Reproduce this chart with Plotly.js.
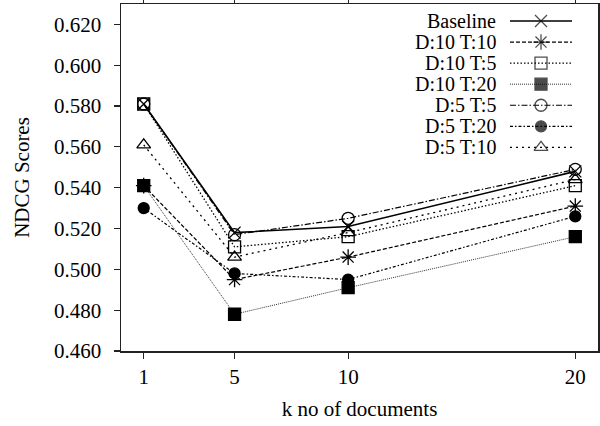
<!DOCTYPE html>
<html>
<head>
<meta charset="utf-8">
<script src="https://cdn.plot.ly/plotly-3.0.1.min.js"></script>
<style>html,body{margin:0;padding:0;background:#fff;}#chart{width:600px;height:426px;}</style>
</head>
<body>
<div id="chart"></div>
<script>
// ---- data ----
const kDocs = [1, 5, 10, 20];
const seriesNames = ["Baseline", "D:10 T:10", "D:10 T:5", "D:10 T:20", "D:5 T:5", "D:5 T:20", "D:5 T:10"];
const baseline = [0.581, 0.518, 0.521, 0.548];
const d10t10   = [0.541, 0.495, 0.506, 0.531];
const d10t5    = [0.581, 0.511, 0.516, 0.541];
const d10t20   = [0.541, 0.478, 0.491, 0.516];
const d5t5     = [0.581, 0.517, 0.525, 0.549];
const d5t20    = [0.530, 0.498, 0.495, 0.526];
const d5t10    = [0.561, 0.506, 0.518, 0.544];
const yTickVals = [0.46, 0.48, 0.50, 0.52, 0.54, 0.56, 0.58, 0.60, 0.62];

// ---- styles ----
const seriesValues = [baseline, d10t10, d10t5, d10t20, d5t5, d5t20, d5t10];
const styles = [
  {dash: "solid", width: 1.6, color: "#000", symbol: "x-thin-open", size: 12},
  {dash: "4px,2px", width: 1.2, color: "#000", symbol: "asterisk-open", size: 13},
  {dash: "1.5px,2px", width: 1.3, color: "#000", symbol: "square-open", size: 12},
  {dash: "1px,1px", width: 1, color: "#333", symbol: "square", size: 12},
  {dash: "6px,2px,1.5px,2px", width: 1.2, color: "#000", symbol: "circle-open", size: 12},
  {dash: "3px,2px,1.5px,2px", width: 1.2, color: "#000", symbol: "circle", size: 11},
  {dash: "2px,4px", width: 1.3, color: "#000", symbol: "triangle-up-open", size: 12}
];
const FONT = "Liberation Serif";
const FS = 21;
const LEG_FS = 20;

const traces = [];
seriesValues.forEach((vals, i) => {
  const s = styles[i];
  traces.push({
    x: kDocs, y: vals, name: seriesNames[i], mode: "lines+markers", showlegend: false,
    line: {color: s.color, width: s.width, dash: s.dash},
    marker: {symbol: s.symbol, size: s.size, color: "#000", line: {color: "#000", width: 1.3}}
  });
});

// custom legend (text left, sample right) on an overlay axis pair
const legX0 = 0.8155, legX1 = 0.9455, legTop = 0.951, legStep = 0.0607;
const annotations = [];
seriesNames.forEach((nm, i) => {
  const s = styles[i];
  const yy = legTop - i * legStep;
  traces.push({
    x: [legX0, (legX0 + legX1) / 2, legX1], y: [yy, yy, yy], xaxis: "x2", yaxis: "y2",
    mode: "lines+markers", showlegend: false, hoverinfo: "skip",
    line: {color: s.color, width: s.width, dash: s.dash},
    marker: {symbol: s.symbol, size: [0, s.size, 0], color: "#000", line: {color: "#000", width: 1.3}}
  });
  annotations.push({
    xref: "paper", yref: "paper", x: 0.788, y: yy, xanchor: "right", yanchor: "middle",
    text: nm, showarrow: false, borderpad: 0, font: {family: FONT, size: LEG_FS, color: "#000"}
  });
});

const axisCommon = {
  showline: true, linecolor: "#222", linewidth: 1.5, mirror: "ticks",
  ticks: "outside", ticklen: 6, tickcolor: "#222", tickwidth: 1.2,
  showgrid: false, zeroline: false,
  tickfont: {family: FONT, size: FS, color: "#000"}
};

const layout = {
  width: 600, height: 426,
  margin: {l: 121, r: 2, t: 4, b: 75},
  paper_bgcolor: "#fff", plot_bgcolor: "#fff",
  font: {family: FONT, size: FS, color: "#000"},
  xaxis: Object.assign({}, axisCommon, {
    range: [0, 21], tickvals: kDocs, ticktext: kDocs.map(String),
    title: {text: "k no of documents", font: {family: FONT, size: FS}, standoff: 13}
  }),
  yaxis: Object.assign({}, axisCommon, {
    range: [0.46, 0.63], tickvals: yTickVals, tickformat: ".3f", ticklabelstandoff: 8,
    title: {text: "NDCG Scores", font: {family: FONT, size: FS}, standoff: 18}
  }),
  xaxis2: {overlaying: "x", anchor: "y2", range: [0, 1], visible: false, fixedrange: true},
  yaxis2: {overlaying: "y", anchor: "x2", range: [0, 1], visible: false, fixedrange: true},
  annotations: annotations,
  showlegend: false
};

Plotly.newPlot("chart", traces, layout, {staticPlot: true});
</script>
</body>
</html>
